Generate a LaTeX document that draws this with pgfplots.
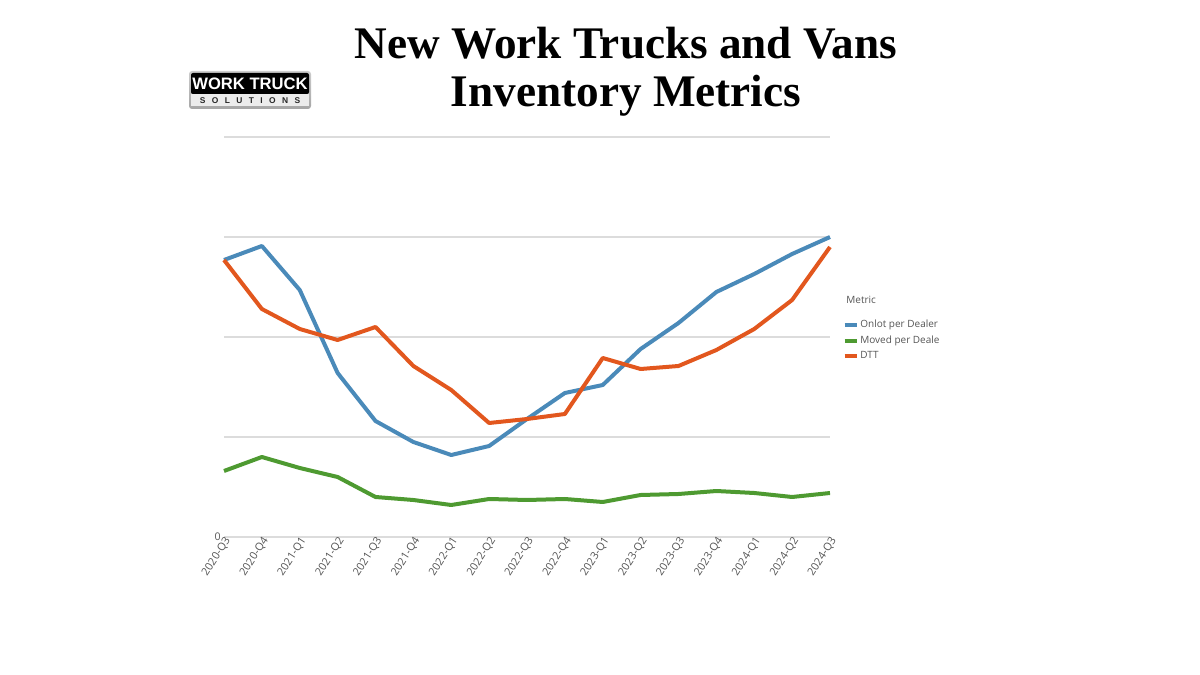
\documentclass[border=0pt]{standalone}
\usepackage{pgfplots}
\pgfplotsset{compat=1.18}
\usepackage{fontspec}
\setmainfont{Open Sans}
\newfontfamily\titlefont{Liberation Serif}
\newfontfamily\logofont{Liberation Sans}
\definecolor{cblue}{HTML}{4A8AB9}
\definecolor{cgreen}{HTML}{4E9A31}
\definecolor{corange}{HTML}{E2571E}
\definecolor{cgrid}{HTML}{DCDCDC}
\definecolor{ctext}{HTML}{555555}
\pgfplotstableread{
x onlot moved dtt
0  2.77 0.66 2.77
1  2.91 0.80 2.28
2  2.47 0.69 2.08
3  1.64 0.60 1.97
4  1.16 0.40 2.10
5  0.95 0.37 1.71
6  0.82 0.32 1.47
7  0.91 0.38 1.14
8  1.18 0.37 1.18
9  1.44 0.38 1.23
10 1.52 0.35 1.79
11 1.88 0.42 1.68
12 2.14 0.43 1.71
13 2.45 0.46 1.87
14 2.63 0.44 2.08
15 2.83 0.40 2.37
16 3.00 0.44 2.90
}\datatable
\begin{document}
\begin{tikzpicture}
\useasboundingbox (0pt,0pt) rectangle (600pt,337.5pt);
% title
\node[font=\titlefont\bfseries\fontsize{22.6}{22.6}\selectfont, anchor=base] at (313pt,308pt) {New Work Trucks and Vans};
\node[font=\titlefont\bfseries\fontsize{22.6}{22.6}\selectfont, anchor=base] at (313pt,284pt) {Inventory Metrics};
% logo
\shade[rounded corners=1.5pt, top color=gray!40, bottom color=gray!70] (94.5pt,283pt) rectangle (155.5pt,302pt);
\fill[black, rounded corners=1pt] (95.5pt,290.5pt) rectangle (154.5pt,301pt);
\fill[gray!15] (95.5pt,284.5pt) rectangle (154.5pt,290.5pt);
\node[font=\logofont\bfseries\fontsize{8.3}{8.3}\selectfont, text=white, inner sep=0pt] at (125pt,295.6pt) {WORK TRUCK};
\node[font=\logofont\bfseries\fontsize{4.2}{4.2}\selectfont, text=black!85, inner sep=0pt] at (125pt,287.4pt) {S\hspace{3.2pt}O\hspace{3.2pt}L\hspace{3.2pt}U\hspace{3.2pt}T\hspace{3.2pt}I\hspace{3.2pt}O\hspace{3.2pt}N\hspace{3.2pt}S};
% legend title
\node[font=\fontsize{5}{5}\selectfont, text=ctext, anchor=west, inner sep=0pt] at (423pt,187.5pt) {Metric};
\begin{axis}[
  at={(112pt,69pt)}, anchor=south west,
  scale only axis, width=303pt, height=200pt,
  xmin=0, xmax=16, ymin=0, ymax=4,
  axis line style={draw=none},
  xtick={0,...,16},
  xticklabels={2020-Q3,2020-Q4,2021-Q1,2021-Q2,2021-Q3,2021-Q4,2022-Q1,2022-Q2,2022-Q3,2022-Q4,2023-Q1,2023-Q2,2023-Q3,2023-Q4,2024-Q1,2024-Q2,2024-Q3},
  xticklabel style={rotate=57, anchor=east, font=\fontsize{5.4}{5.4}\selectfont, text=ctext, inner sep=1pt, xshift=1.5pt, yshift=-2.2pt},
  ytick={0,1,2,3,4},
  yticklabels={0,,,,},
  yticklabel style={font=\fontsize{5.3}{5.3}\selectfont, text=ctext, inner sep=1.5pt},
  /pgf/number format/assume math mode=true,
  major tick length=0pt,
  ymajorgrids, major grid style={cgrid, line width=0.6pt},
  clip=false,
  legend style={at={(1.02,0.547)}, anchor=north west, draw=none, fill=none,
    font=\fontsize{5}{5}\selectfont, text=ctext, row sep=1.4pt, inner sep=0pt,
    nodes={inner sep=0.6pt},
    /tikz/every even column/.append style={column sep=0pt}},
  legend cell align=left,
  legend image code/.code={\draw[#1, line width=2pt] (0pt,0pt) -- (6.3pt,0pt);},
]
\addplot[cblue, line width=2pt, line join=round] table[x=x, y=onlot] {\datatable};
\addlegendentry{Onlot per Dealer}
\addplot[cgreen, line width=2pt, line join=round] table[x=x, y=moved] {\datatable};
\addlegendentry{Moved per Deale}
\addplot[corange, line width=2pt, line join=round] table[x=x, y=dtt] {\datatable};
\addlegendentry{DTT}
\end{axis}
\end{tikzpicture}
\end{document}
